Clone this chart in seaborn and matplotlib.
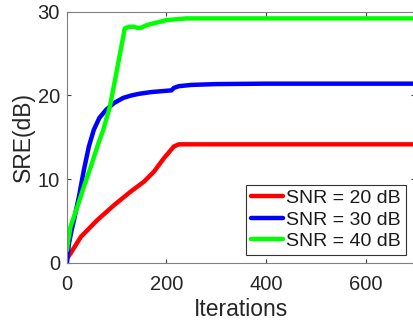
import numpy as np
import pandas as pd
import matplotlib
matplotlib.use("Agg")
import matplotlib.pyplot as plt
import seaborn as sns

# ---- data ----
iters_20 = [0, 7, 28, 61, 95, 128, 155, 175, 195, 215, 225, 250, 300, 400, 500, 600, 700]
sre_20 = [0.5, 1.1, 3.1, 5.1, 6.9, 8.5, 9.7, 10.9, 12.5, 13.9, 14.15, 14.15, 14.15, 14.15, 14.15, 14.15, 14.15]

iters_30 = [0, 2, 4, 9, 14, 24, 34, 44, 54, 65, 79, 95, 113, 130, 146, 170, 200, 210, 215, 225, 250, 300, 400, 500, 600, 700]
sre_30 = [0.0, 1.2, 2.3, 3.8, 5.1, 7.9, 11.1, 13.9, 15.9, 17.3, 18.3, 19.1, 19.7, 20.0, 20.2, 20.4, 20.55, 20.6, 20.9, 21.1, 21.25, 21.35, 21.4, 21.4, 21.4, 21.4]

iters_40 = [0, 2, 7, 21, 34, 48, 61, 73, 86, 99, 106, 113, 116, 125, 135, 143, 150, 160, 187, 200, 221, 240, 270, 300, 400, 500, 600, 700]
sre_40 = [1.5, 2.5, 4.3, 6.7, 9.1, 11.5, 13.9, 15.9, 18.6, 22.6, 24.8, 27.0, 28.0, 28.2, 28.2, 28.05, 28.1, 28.4, 28.8, 29.0, 29.1, 29.2, 29.2, 29.2, 29.2, 29.2, 29.2, 29.2]

labels = ["SNR = 20 dB", "SNR = 30 dB", "SNR = 40 dB"]
colors = ["#ff0000", "#0000ff", "#00ff00"]
x_ticks = [0, 200, 400, 600]
y_ticks = [0, 10, 20, 30]

frames = []
for lab, xs, ys in zip(labels, [iters_20, iters_30, iters_40], [sre_20, sre_30, sre_40]):
    frames.append(pd.DataFrame({"Iterations": xs, "SRE": ys, "series": lab}))
df = pd.concat(frames, ignore_index=True)

sns.set_theme(style="ticks")
plt.rcParams["font.family"] = ["Liberation Sans", "DejaVu Sans"]

fig = plt.figure(figsize=(4.13, 3.29), dpi=100)
ax = fig.add_axes([0.1622, 0.2015, 0.8433, 0.7629])

sns.lineplot(data=df, x="Iterations", y="SRE", hue="series", hue_order=labels,
             palette=colors, linewidth=3.2, ax=ax, sort=False, estimator=None)

ax.set_xlim(0, 700)
ax.set_ylim(0, 30)
ax.set_xticks(x_ticks)
ax.set_yticks(y_ticks)
ax.set_xlabel("Iterations", fontsize=16.5, color="#262626", labelpad=3)
ax.set_ylabel("SRE(dB)", fontsize=16.5, color="#262626", labelpad=2)

for s in ax.spines.values():
    s.set_visible(True)
    s.set_color("#808080")
    s.set_linewidth(0.8)
ax.tick_params(direction="in", length=3, width=0.8, color="#404040",
               labelsize=14.5, labelcolor="#262626", top=True, right=True)
ax.tick_params(axis="x", pad=9)
ax.tick_params(axis="y", pad=5)

leg = ax.legend(loc="lower right", bbox_to_anchor=(0.973, 0.031), borderaxespad=0,
                fontsize=14, handlelength=1.65, handletextpad=0.15, labelspacing=0.2,
                borderpad=0.25, frameon=True, fancybox=False)
leg.get_frame().set_edgecolor("#333333")
leg.get_frame().set_linewidth(0.8)
leg.get_frame().set_alpha(1)
for t in leg.get_texts():
    t.set_color("#1a1a1a")

fig.savefig("out.png", dpi=100)
